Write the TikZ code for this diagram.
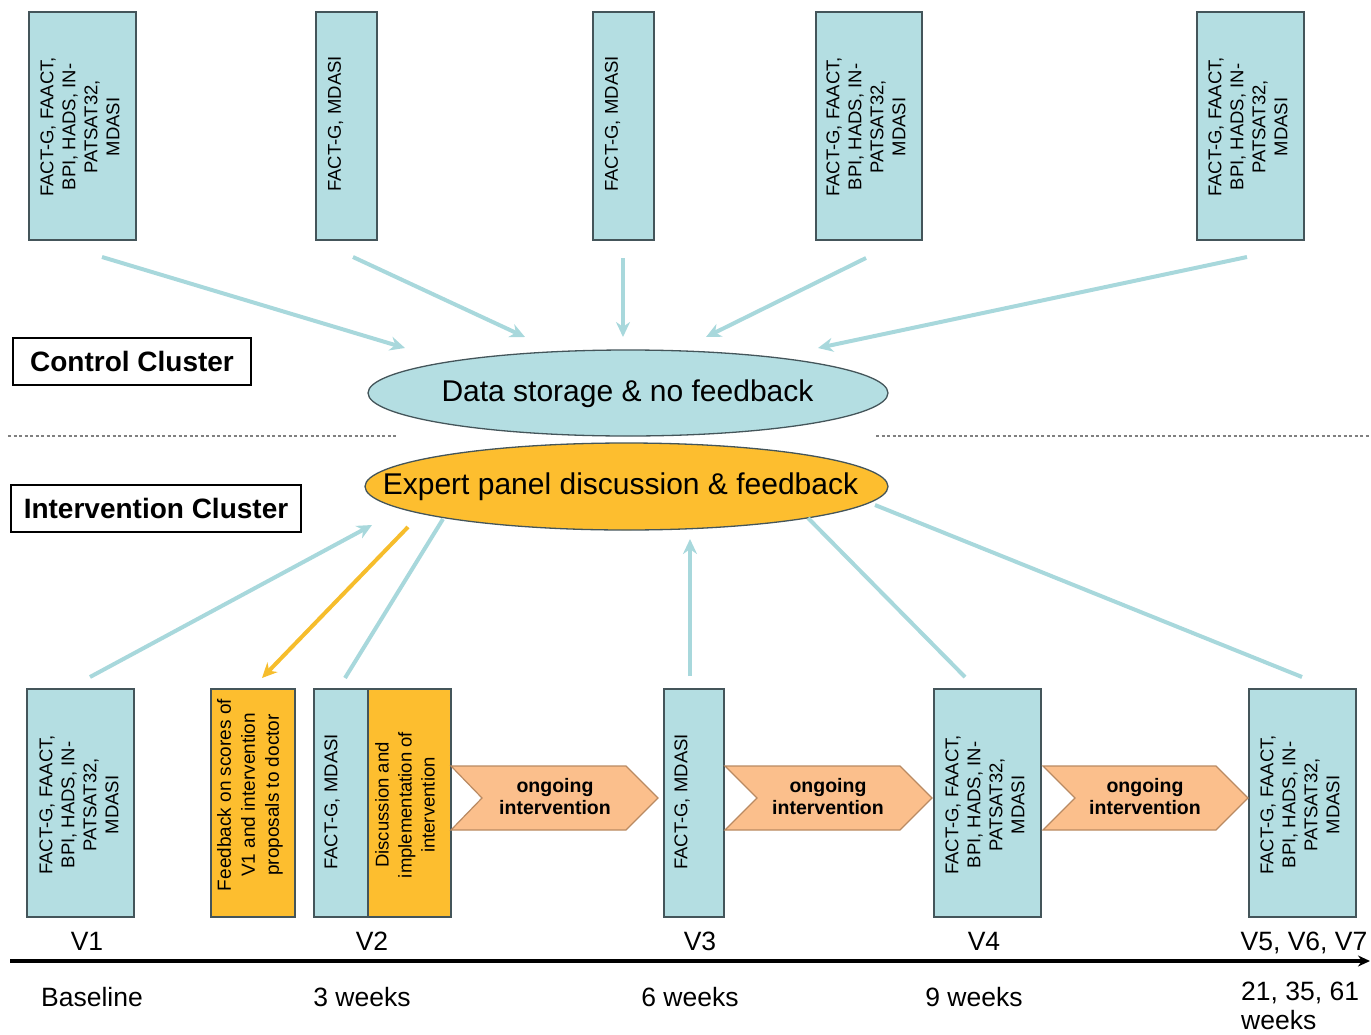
\documentclass[tikz,border=0pt]{standalone}
\usepackage{fontspec}
\setmainfont{Liberation Sans}
\usetikzlibrary{arrows.meta,shapes.geometric}
\definecolor{lblue}{HTML}{B4DEE2}
\definecolor{edgec}{HTML}{44555A}
\definecolor{arrblue}{HTML}{A8D8DC}
\definecolor{orng}{HTML}{FDBE2F}
\definecolor{peach}{HTML}{FBBF8C}
\definecolor{peachedge}{HTML}{B98A62}
\definecolor{orngarr}{HTML}{F6BD2C}
\begin{document}
\begin{tikzpicture}[x=1pt,y=-1pt,
  mbox/.style 2 args={draw=edgec, line width=1.4pt, fill=lblue, minimum width=#1, minimum height=#2, inner sep=0pt},
  obox/.style 2 args={draw=edgec, line width=1.4pt, fill=orng, minimum width=#1, minimum height=#2, inner sep=0pt},
  btext/.style={rotate=90, align=center, font=\fontsize{18.5}{22}\selectfont, inner sep=0pt},
  ctext/.style={align=center, font=\bfseries\fontsize{19.5}{22}\selectfont, inner sep=0pt},
  lab/.style={font=\fontsize{26.5}{30}\selectfont, inner sep=0pt},
  clus/.style={draw=black, line width=2pt, inner sep=0pt, font=\bfseries\fontsize{28}{30}\selectfont},
  arr/.style={draw=arrblue, line width=4pt, -{Stealth[length=15pt, width=14pt]}},
  line/.style={draw=arrblue, line width=4pt},
  chev/.style={draw=peachedge, line width=1.2pt, fill=peach},
  ell/.style={ellipse, draw=edgec, line width=1.3pt, inner sep=0pt}
]
\useasboundingbox (0,0) rectangle (1371,1034);

% top boxes (control cluster)
\node[mbox={107}{228}] (t1) at (82.5,126) {};
\node[mbox={61}{228}]  (t2) at (346.5,126) {};
\node[mbox={61}{228}]  (t3) at (623.5,126) {};
\node[mbox={106}{228}] (t4) at (869,126) {};
\node[mbox={107}{228}] (t5) at (1250.5,126) {};
\node[btext] (tt1) at (80,127) {FACT-G, FAACT,\\BPI, HADS, IN-\\PATSAT32,\\MDASI};
\node[btext] (tt2) at (335.5,124) {FACT-G, MDASI};
\node[btext] (tt3) at (612.5,124) {FACT-G, MDASI};
\node[btext] (tt4) at (866,127) {FACT-G, FAACT,\\BPI, HADS, IN-\\PATSAT32,\\MDASI};
\node[btext] (tt5) at (1248,127) {FACT-G, FAACT,\\BPI, HADS, IN-\\PATSAT32,\\MDASI};

% ellipses
\node[ell, fill=lblue, minimum width=520pt, minimum height=86pt] (ctrl) at (628,393) {};
\node[font=\fontsize{30}{36}\selectfont, inner sep=0pt] (ctrltxt) at (627.5,394) {Data storage \& no feedback};
\node[ell, fill=orng, minimum width=523pt, minimum height=87pt] (expt) at (626.5,486.5) {};
\node[font=\fontsize{30}{36}\selectfont, inner sep=0pt] (expttxt) at (620.5,487) {Expert panel discussion \& feedback};

% cluster labels
\node[clus, minimum width=238pt, minimum height=47pt] (cc) at (132,361.5) {Control Cluster};
\node[clus, minimum width=290pt, minimum height=47pt] (ic) at (156,508.5) {Intervention Cluster};

% dashed separator
\coordinate (d0) at (8,436);
\coordinate (d1) at (397,436);
\coordinate (d2) at (876,436);
\coordinate (d3) at (1371,436);
\draw[gray, line width=1.3pt, dash pattern=on 3pt off 2.5pt] (d0) -- (d1);
\draw[gray, line width=1.3pt, dash pattern=on 3pt off 2.5pt] (d2) -- (d3);

% top arrows
\coordinate (a1s) at (102,257);  \coordinate (a1e) at (405,348);
\coordinate (a2s) at (353,257);  \coordinate (a2e) at (525,337);
\coordinate (a3s) at (623,258);  \coordinate (a3e) at (623,337);
\coordinate (a4s) at (866,258);  \coordinate (a4e) at (706,337);
\coordinate (a5s) at (1247,257); \coordinate (a5e) at (818,348);
\draw[arr] (a1s) -- (a1e);
\draw[arr] (a2s) -- (a2e);
\draw[arr] (a3s) -- (a3e);
\draw[arr] (a4s) -- (a4e);
\draw[arr] (a5s) -- (a5e);

% bottom boxes (intervention cluster)
\node[mbox={107}{228}] (v1) at (80.5,803) {};
\node[obox={84}{228}]  (fb) at (253,803) {};
\node[mbox={54}{228}]  (v2a) at (341,803) {};
\node[obox={83}{228}]  (v2b) at (409.5,803) {};
\node[mbox={60}{228}]  (v3) at (694,803) {};
\node[mbox={107}{228}] (v4) at (987.5,803) {};
\node[mbox={107}{228}] (v5) at (1302.5,803) {};
\node[btext] (bt1) at (79,805) {FACT-G, FAACT,\\BPI, HADS, IN-\\PATSAT32,\\MDASI};
\node[btext, font=\fontsize{19}{24}\selectfont] (fbt) at (250,795) {Feedback on scores of\\V1 and intervention\\proposals to doctor};
\node[btext] (bt2) at (332,802) {FACT-G, MDASI};
\node[btext, font=\fontsize{18.5}{23}\selectfont] (dt) at (405,805) {Discussion and\\implementation of\\intervention};
\node[btext] (bt3) at (682,802) {FACT-G, MDASI};
\node[btext] (bt4) at (985,805) {FACT-G, FAACT,\\BPI, HADS, IN-\\PATSAT32,\\MDASI};
\node[btext] (bt5) at (1300,805) {FACT-G, FAACT,\\BPI, HADS, IN-\\PATSAT32,\\MDASI};

% chevrons
\draw[chev] (451,766) -- (626,766) -- (658,798) -- (626,830) -- (451,830) -- (482,798) -- cycle;
\draw[chev] (725,766) -- (900,766) -- (932,798) -- (900,830) -- (725,830) -- (757,798) -- cycle;
\draw[chev] (1043,766) -- (1216,766) -- (1248,798) -- (1216,830) -- (1043,830) -- (1075,798) -- cycle;
\node[ctext] (ct1) at (555,797) {ongoing\\intervention};
\node[ctext] (ct2) at (828,797) {ongoing\\intervention};
\node[ctext] (ct3) at (1145,797) {ongoing\\intervention};

% bottom connectors
\coordinate (b1s) at (90,677);   \coordinate (b1e) at (372,525);
\coordinate (b2s) at (408,527);  \coordinate (b2e) at (262,678);
\coordinate (b3s) at (345,678);  \coordinate (b3e) at (443,519);
\coordinate (b4s) at (690,676);  \coordinate (b4e) at (690,539);
\coordinate (b5s) at (965,677);  \coordinate (b5e) at (808,518);
\coordinate (b6s) at (1302,677); \coordinate (b6e) at (875,505);
\draw[arr] (b1s) -- (b1e);
\draw[draw=orngarr, line width=4pt, -{Stealth[length=15pt, width=14pt]}] (b2s) -- (b2e);
\draw[line] (b3s) -- (b3e);
\draw[arr] (b4s) -- (b4e);
\draw[line] (b5s) -- (b5e);
\draw[line] (b6s) -- (b6e);

% timeline
\node[lab, anchor=base] (lv1) at (87,950) {V1};
\node[lab, anchor=base] (lv2) at (372,950) {V2};
\node[lab, anchor=base] (lv3) at (700,950) {V3};
\node[lab, anchor=base] (lv4) at (984,950) {V4};
\node[lab, anchor=base] (lv5) at (1304,950) {V5, V6, V7};
\coordinate (tl0) at (10,961);
\coordinate (tl1) at (1370,961);
\draw[line width=3.5pt, -{Stealth[length=12pt, width=11pt]}] (tl0) -- (tl1);
\node[lab, anchor=base] (w0) at (92,1006) {Baseline};
\node[lab, anchor=base] (w1) at (362,1006) {3 weeks};
\node[lab, anchor=base] (w2) at (690,1006) {6 weeks};
\node[lab, anchor=base] (w3) at (974,1006) {9 weeks};
\node[lab, anchor=base west] (w4) at (1241,1000) {21, 35, 61};
\node[lab, anchor=base west] (w5) at (1241,1029) {weeks};
\end{tikzpicture}
\end{document}
